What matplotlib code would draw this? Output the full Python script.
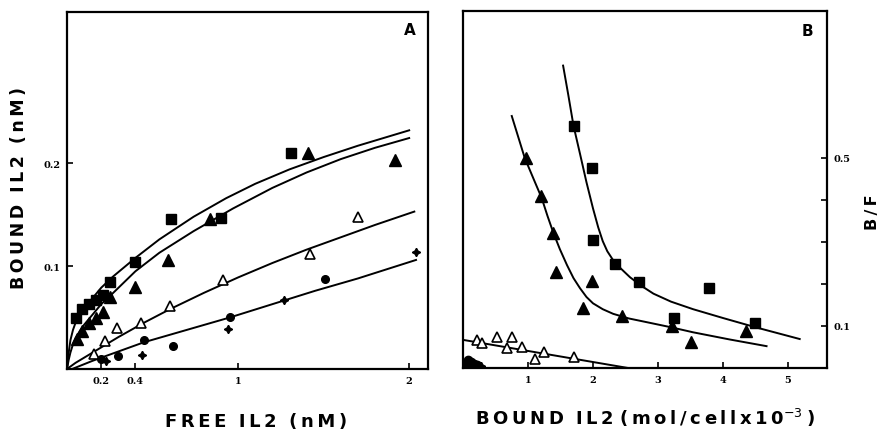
import matplotlib
matplotlib.use("Agg")
import matplotlib.pyplot as plt

# ---------------- Panel A data: bound vs free IL2 ----------------
a_sq_x = [0.05, 0.09, 0.13, 0.17, 0.21, 0.25, 0.40, 0.61, 0.90, 1.31]
a_sq_y = [0.050, 0.058, 0.063, 0.067, 0.072, 0.085, 0.104, 0.146, 0.147, 0.210]

a_tri_x = [0.06, 0.09, 0.13, 0.17, 0.21, 0.25, 0.40, 0.59, 0.835, 1.41, 1.92]
a_tri_y = [0.029, 0.037, 0.045, 0.050, 0.055, 0.070, 0.080, 0.106, 0.146, 0.210, 0.203]

a_otri_x = [0.16, 0.22, 0.29, 0.43, 0.60, 0.91, 1.42, 1.70]
a_otri_y = [0.015, 0.027, 0.040, 0.045, 0.061, 0.0865, 0.112, 0.148]

a_circ_x = [0.20, 0.30, 0.45, 0.62, 0.95, 1.51]
a_circ_y = [0.010, 0.013, 0.028, 0.022, 0.051, 0.087]

a_plus_x = [0.23, 0.44, 0.94, 1.27, 2.04]
a_plus_y = [0.008, 0.0135, 0.039, 0.067, 0.114]

# fitted curves
a_fit1_x = [0.0, 0.01, 0.02, 0.035, 0.05, 0.075, 0.10, 0.15, 0.20, 0.27, 0.40, 0.54, 0.74, 0.93, 1.10, 1.30, 1.50, 1.70, 2.00]
a_fit1_y = [0.0, 0.016, 0.028, 0.038, 0.045, 0.053, 0.059, 0.069, 0.079, 0.090, 0.108, 0.126, 0.148, 0.166, 0.180, 0.194, 0.206, 0.217, 0.232]

a_fit2_x = [0.0, 0.01, 0.02, 0.035, 0.05, 0.075, 0.10, 0.15, 0.20, 0.27, 0.40, 0.54, 0.74, 0.97, 1.20, 1.40, 1.60, 1.80, 2.00]
a_fit2_y = [0.0, 0.009, 0.016, 0.024, 0.030, 0.037, 0.043, 0.053, 0.063, 0.074, 0.095, 0.113, 0.134, 0.156, 0.176, 0.191, 0.204, 0.215, 0.2245]

a_fit3_x = [0.0, 0.05, 0.10, 0.20, 0.30, 0.45, 0.60, 0.80, 1.00, 1.20, 1.40, 1.60, 1.80, 2.03]
a_fit3_y = [0.0, 0.006, 0.011, 0.021, 0.031, 0.045, 0.058, 0.074, 0.089, 0.103, 0.116, 0.128, 0.140, 0.153]

a_fit4_x = [0.03, 0.15, 0.30, 0.45, 0.70, 0.95, 1.20, 1.45, 1.70, 2.04]
a_fit4_y = [0.0, 0.008, 0.017, 0.026, 0.038, 0.050, 0.063, 0.076, 0.088, 0.106]

a_xticks = [0.2, 0.4, 1, 2]
a_xticklabels = ["0.2", "0.4", "1", "2"]
a_yticks = [0.1, 0.2]
a_yticklabels = ["0.1", "0.2"]

# ---------------- Panel B data: Scatchard plot ----------------
b_sq_x = [1.71, 1.99, 2.00, 2.34, 2.71, 3.78, 3.25, 4.49]
b_sq_y = [0.577, 0.476, 0.305, 0.248, 0.204, 0.190, 0.118, 0.107]

b_tri_x = [0.97, 1.20, 1.38, 1.43, 1.84, 1.99, 2.44, 3.21, 3.50, 4.36]
b_tri_y = [0.499, 0.410, 0.321, 0.229, 0.142, 0.208, 0.125, 0.099, 0.061, 0.089]

b_otri_x = [0.21, 0.30, 0.52, 0.75, 0.67, 0.90, 1.10, 1.25, 1.71]
b_otri_y = [0.067, 0.059, 0.074, 0.074, 0.047, 0.050, 0.021, 0.037, 0.026]

b_circ_x = [0.04, 0.08, 0.12, 0.17, 0.22]
b_circ_y = [0.012, 0.018, 0.015, 0.010, 0.006]

b_plus_x = [0.06, 0.28]
b_plus_y = [0.004, 0.004]

b_fit_sq_x = [1.54, 1.62, 1.70, 1.80, 1.90, 2.00, 2.08, 2.15, 2.22, 2.30, 2.40, 2.57, 2.75, 2.93, 3.20, 3.54, 4.00, 4.50, 5.18]
b_fit_sq_y = [0.720, 0.650, 0.577, 0.510, 0.442, 0.380, 0.335, 0.302, 0.278, 0.259, 0.241, 0.216, 0.195, 0.177, 0.158, 0.140, 0.119, 0.097, 0.069]

b_fit_tri_x = [0.75, 0.95, 1.10, 1.21, 1.30, 1.39, 1.49, 1.60, 1.70, 1.80, 1.90, 2.00, 2.15, 2.31, 2.55, 2.83, 3.20, 3.54, 4.10, 4.67]
b_fit_tri_y = [0.600, 0.500, 0.445, 0.405, 0.362, 0.322, 0.283, 0.245, 0.214, 0.190, 0.169, 0.154, 0.140, 0.129, 0.118, 0.109, 0.097, 0.085, 0.068, 0.052]

b_fit_otri_x = [0.0, 2.54]
b_fit_otri_y = [0.067, 0.0]

b_xticks = [1, 2, 3, 4, 5]
b_xticklabels = ["1", "2", "3", "4", "5"]
b_yticks = [0.1, 0.2, 0.3, 0.4, 0.5]
b_yticklabels = ["0.1", "", "", "", "0.5"]


def spaced(s):
    return "\u2009".join(s)


W, H = 881, 431
fig = plt.figure(figsize=(W / 100, H / 100), dpi=100)

axA = fig.add_axes([67 / W, 1 - 370 / H, (428 - 67) / W, (370 - 13) / H])
axB = fig.add_axes([463 / W, 1 - 369 / H, (827 - 463) / W, (369 - 12) / H])

tick_font = dict(family="DejaVu Serif", weight="bold", size=7)
label_font = dict(family="DejaVu Sans", weight="bold")

for ax in (axA, axB):
    for sp in ax.spines.values():
        sp.set_linewidth(1.6)
    ax.tick_params(direction="in", length=4, width=1.2, pad=5)

lw = 1.4
# Panel A
for fx, fy in ((a_fit1_x, a_fit1_y), (a_fit2_x, a_fit2_y), (a_fit3_x, a_fit3_y), (a_fit4_x, a_fit4_y)):
    axA.plot(fx, fy, color="black", lw=lw, zorder=2, solid_joinstyle="round")
axA.plot(a_sq_x, a_sq_y, "s", color="black", ms=7.5, ls="none", zorder=3)
axA.plot(a_tri_x, a_tri_y, "^", color="black", ms=8, ls="none", zorder=3)
axA.plot(a_otri_x, a_otri_y, "^", mfc="white", mec="black", mew=1.2, ms=7, ls="none", zorder=3)
axA.plot(a_circ_x, a_circ_y, "o", color="black", ms=5.5, ls="none", zorder=3)
axA.plot(a_plus_x, a_plus_y, marker=(4, 1, 0), color="black", ms=6, ls="none", zorder=3)

axA.set_xlim(0, 2.11)
axA.set_ylim(0, 0.347)
axA.set_xticks(a_xticks)
axA.set_xticklabels(a_xticklabels, fontdict=tick_font)
axA.set_yticks(a_yticks)
axA.set_yticklabels(a_yticklabels, fontdict=tick_font)
axA.text(0.95, 0.95, "A", transform=axA.transAxes, ha="center", va="center",
         fontsize=11, fontweight="bold", family="DejaVu Sans")

# Panel B
for fx, fy in ((b_fit_sq_x, b_fit_sq_y), (b_fit_tri_x, b_fit_tri_y), (b_fit_otri_x, b_fit_otri_y)):
    axB.plot(fx, fy, color="black", lw=lw, zorder=2, solid_joinstyle="round")
axB.plot(b_sq_x, b_sq_y, "s", color="black", ms=7.5, ls="none", zorder=3)
axB.plot(b_tri_x, b_tri_y, "^", color="black", ms=8, ls="none", zorder=3)
axB.plot(b_otri_x, b_otri_y, "^", mfc="white", mec="black", mew=1.2, ms=7, ls="none", zorder=3)
axB.plot(b_circ_x, b_circ_y, "o", color="black", ms=6, ls="none", zorder=3)
axB.plot(b_plus_x, b_plus_y, marker=(4, 1, 0), color="black", ms=6, ls="none", zorder=3)

axB.set_xlim(0, 5.6)
axB.set_ylim(0, 0.85)
axB.set_xticks(b_xticks)
axB.set_xticklabels(b_xticklabels, fontdict=tick_font)
axB.yaxis.tick_right()
axB.set_yticks(b_yticks)
axB.set_yticklabels(b_yticklabels, fontdict=tick_font)
axB.tick_params(axis="y", which="both", left=False, right=True)
axB.text(0.945, 0.945, "B", transform=axB.transAxes, ha="center", va="center",
         fontsize=11, fontweight="bold", family="DejaVu Sans")

# Axis labels
fig.text(19 / W, 1 - 188 / H, spaced("BOUND") + "  " + spaced("IL2") + "  " + spaced("(nM)"),
         rotation=90, ha="center", va="center", fontsize=12.5, **label_font)
fig.text(256 / W, 1 - 422 / H, spaced("FREE") + "  " + spaced("IL2") + "  " + spaced("(nM)"),
         ha="center", va="center", fontsize=13, **label_font)
fig.text(873 / W, 1 - 212 / H, spaced("B/F"), rotation=90, ha="center", va="center",
         fontsize=11.5, **label_font)
fig.text(645 / W, 1 - 418 / H,
         spaced("BOUND") + "  " + spaced("IL2") + " " + spaced("(mol/cellx10") + r"$^{-3}$" + "\u2009)",
         ha="center", va="center", fontsize=13, **label_font)

fig.savefig("out.png", dpi=100)
